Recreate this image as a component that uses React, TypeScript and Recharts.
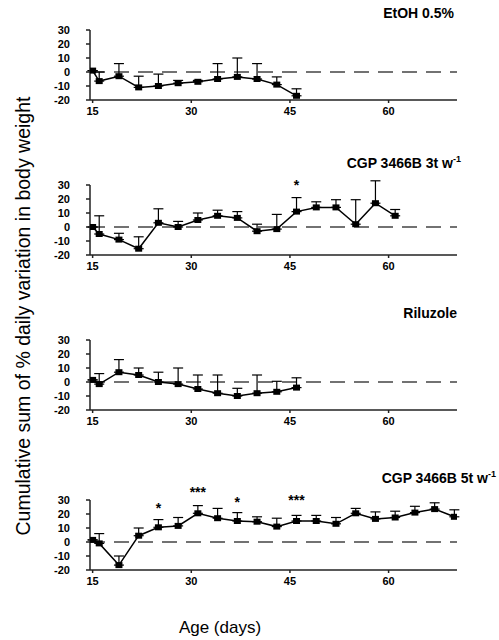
import React from 'react';
import { LineChart, Line, XAxis, YAxis, ErrorBar, ReferenceLine, ReferenceDot } from 'recharts';

// ---- data ----
const etohDays = [15, 16, 19, 22, 25, 28, 31, 34, 37, 40, 43, 46];
const etohMean = [1, -6.5, -3, -11, -10, -8, -7, -5, -3.5, -5, -9, -17];
const etohUpper = [1, 0, 6, -3, -1.5, -6, -6, 6, 10, 6, -3.5, -12];

const cgp3Days = [15, 16, 19, 22, 25, 28, 31, 34, 37, 40, 43, 46, 49, 52, 55, 58, 61];
const cgp3Mean = [0, -5, -9, -15.5, 3, 0, 5, 8, 6.5, -3, -1.5, 11, 14, 14, 2, 17, 8];
const cgp3Upper = [0, 8, -4.5, -7, 13, 4, 10, 12, 11, 2, 9, 21, 18, 19.5, 19.5, 33, 12.5];

const rilDays = [15, 16, 19, 22, 25, 28, 31, 34, 37, 40, 43, 46];
const rilMean = [1.5, -1.5, 7, 5, 0, -1.5, -5, -8, -10, -8, -7, -4];
const rilUpper = [1.5, 6, 16, 10, 7, 10, 5, 5, -4.5, 5, 0.5, 3];

const cgp5Days = [15, 16, 19, 22, 25, 28, 31, 34, 37, 40, 43, 46, 49, 52, 55, 58, 61, 64, 67, 70];
const cgp5Mean = [1.5, -1, -16.5, 4.5, 10.5, 11.5, 20.5, 17, 15, 14.5, 11, 15, 15, 13, 20.5, 16.5, 17.5, 21, 23.5, 18];
const cgp5Upper = [1.5, 6, -10, 10, 16, 17.5, 26, 24, 21, 18, 17, 19, 19, 17.5, 24, 21.5, 22, 25.5, 28, 23];

const cgp3StarDays = [46];
const cgp3StarText = ['*'];
const cgp3StarY = [30.3];

const cgp5StarDays = [25, 31, 37, 46];
const cgp5StarText = ['*', '***', '*', '***'];
const cgp5StarY = [24.4, 35.7, 28.6, 29.7];

const xTicks = [15, 30, 45, 60];
const yTicks = [-20, -10, 0, 10, 20, 30];

const FONT = '"Liberation Sans", Arial, sans-serif';

function build(days: number[], mean: number[], upper: number[]) {
  return days.map((d, i) => ({ day: d, v: mean[i], err: [0, Math.max(0, upper[i] - mean[i])] }));
}

const Square = (props: any) => {
  const { cx, cy } = props;
  if (cx == null || cy == null) return null;
  return <rect x={cx - 3.5} y={cy - 3} width={7} height={6} fill="#000" />;
};

type PanelProps = {
  top: number;
  data: any[];
  stars?: { day: number; y: number; text: string }[];
};

const Panel = ({ top, data, stars = [] }: PanelProps) => (
  <div style={{ position: 'absolute', left: 0, top }}>
    <LineChart width={499} height={120} data={data} margin={{ top: 20, right: 42, left: 40, bottom: 0 }}>
      <XAxis
        dataKey="day"
        type="number"
        domain={[14.6, 70.4]}
        ticks={xTicks}
        allowDataOverflow
        height={30}
        tickSize={3}
        tickMargin={4}
        stroke="#222"
        strokeWidth={1.5}
        tick={{ fill: '#000', fontSize: 11, fontWeight: 'bold', fontFamily: FONT }}
      />
      <YAxis
        type="number"
        domain={[-20, 30]}
        ticks={yTicks}
        allowDataOverflow
        width={50}
        tickSize={4}
        tickMargin={16}
        stroke="#222"
        strokeWidth={1.5}
        interval={0}
        tick={{ fill: '#000', fontSize: 11, fontWeight: 'bold', fontFamily: FONT }}
      />
      <ReferenceLine y={0} stroke="#444" strokeWidth={1.5} strokeDasharray="15 9" />
      <Line
        dataKey="v"
        type="linear"
        stroke="#000"
        strokeWidth={1.5}
        isAnimationActive={false}
        dot={(p: any) => <Square key={`d${p.index}`} cx={p.cx} cy={p.cy} />}
        activeDot={false}
      >
        <ErrorBar dataKey="err" width={5} stroke="#000" strokeWidth={1.2} direction="y" />
      </Line>
      {stars.map((s, i) => (
        <ReferenceDot
          key={i}
          x={s.day}
          y={s.y}
          r={1}
          fill="none"
          stroke="none"
          ifOverflow="visible"
          label={{ value: s.text, position: 'center', fontSize: 14, fontWeight: 'bold', fill: '#000', fontFamily: FONT }}
        />
      ))}
    </LineChart>
  </div>
);

const Title = ({ right, cy, children }: { right: number; cy: number; children: React.ReactNode }) => (
  <div
    style={{
      position: 'absolute',
      right: 499 - right,
      top: cy - 9,
      lineHeight: '18px',
      fontSize: 14,
      fontWeight: 'bold',
      fontFamily: FONT,
      color: '#000',
      whiteSpace: 'nowrap',
    }}
  >
    {children}
  </div>
);

export default function App() {
  const p1 = build(etohDays, etohMean, etohUpper);
  const p2 = build(cgp3Days, cgp3Mean, cgp3Upper);
  const p3 = build(rilDays, rilMean, rilUpper);
  const p4 = build(cgp5Days, cgp5Mean, cgp5Upper);
  const s2 = cgp3StarDays.map((d, i) => ({ day: d, y: cgp3StarY[i], text: cgp3StarText[i] }));
  const s4 = cgp5StarDays.map((d, i) => ({ day: d, y: cgp5StarY[i], text: cgp5StarText[i] }));
  return (
    <div style={{ position: 'absolute', left: 0, top: 0, width: 499, height: 640, background: '#fff', overflow: 'hidden' }}>
      <div style={{ position: 'absolute', left: 0, top: 0, width: 499, height: 640 }}>
        <Panel top={10} data={p1} />
        <Panel top={165} data={p2} stars={s2} />
        <Panel top={320} data={p3} />
        <Panel top={479.5} data={p4} stars={s4} />
      </div>
      <Title right={454} cy={13}>EtOH 0.5%</Title>
      <Title right={461} cy={163}>
        CGP 3466B 3t w<sup style={{ fontSize: 9, verticalAlign: 'top', lineHeight: '10px' }}>-1</sup>
      </Title>
      <Title right={457} cy={313}>Riluzole</Title>
      <Title right={496} cy={478}>
        CGP 3466B 5t w<sup style={{ fontSize: 9, verticalAlign: 'top', lineHeight: '10px' }}>-1</sup>
      </Title>
      <div
        style={{
          position: 'absolute',
          left: 23 - 250,
          top: 316 - 12,
          width: 500,
          lineHeight: '24px',
          textAlign: 'center',
          fontSize: 19.5,
          fontFamily: FONT,
          color: '#000',
          transform: 'rotate(-90deg)',
          whiteSpace: 'nowrap',
        }}
      >
        Cumulative sum of % daily variation in body weight
      </div>
      <div
        style={{
          position: 'absolute',
          left: 220 - 100,
          top: 628 - 10,
          width: 200,
          lineHeight: '20px',
          textAlign: 'center',
          fontSize: 17,
          fontFamily: FONT,
          color: '#000',
        }}
      >
        Age (days)
      </div>
    </div>
  );
}
